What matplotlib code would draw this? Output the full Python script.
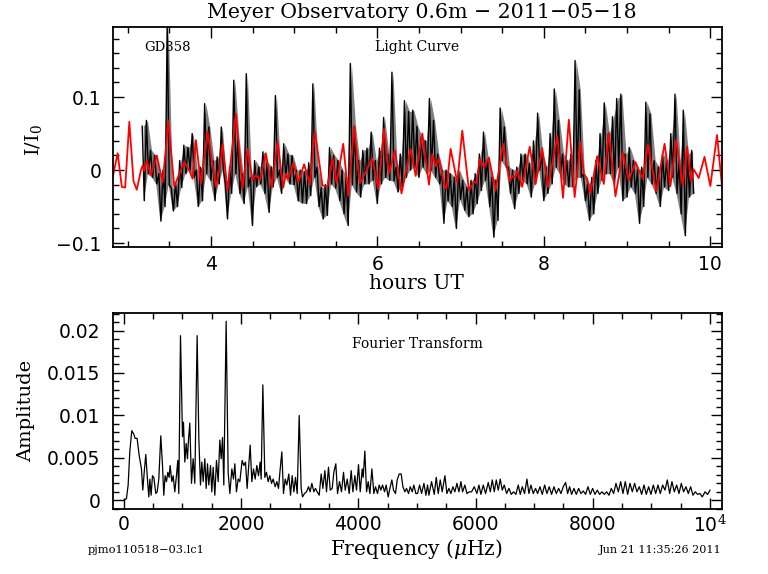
import numpy as np
import matplotlib.pyplot as plt
from matplotlib.ticker import MultipleLocator

plt.rcParams['mathtext.fontset'] = 'dejavuserif'

# ---- light curve (black): high/low of the noisy data in 0.05 h windows, 3.175 h .. 9.825 h
lc_start, lc_end = 3.175, 9.80
lc_hi = [0.060, 0.068, 0.027, 0.020, -0.005, 0.000, 0.200, -0.025, -0.018, 0.013,
         0.034, 0.031, 0.050, 0.000, 0.004, 0.091, 0.059, 0.013, 0.018, 0.059,
         -0.019, 0.004, 0.123, 0.045, -0.005, 0.132, -0.010, 0.013, 0.004, 0.025,
         0.010, 0.004, 0.102, 0.000, 0.036, 0.022, 0.020, 0.000, 0.000, -0.002,
         0.010, 0.118, 0.004, -0.024, -0.020, 0.031, 0.020, 0.013, 0.000, -0.010,
         0.146, 0.060, 0.013, 0.027, 0.030, 0.052, 0.013, 0.030, 0.072, 0.022,
         0.134, 0.004, 0.022, 0.095, 0.080, 0.082, 0.060, 0.045, 0.040, 0.098,
         0.068, 0.022, 0.000, 0.000, -0.005, -0.010, 0.000, -0.014, -0.024, -0.014,
         -0.005, 0.022, 0.052, 0.013, -0.010, -0.014, 0.085, 0.059, 0.004, 0.000,
         0.004, 0.022, 0.022, 0.009, 0.040, 0.078, 0.022, 0.004, 0.050, 0.111,
         0.068, 0.022, 0.013, 0.022, 0.150, 0.110, -0.005, -0.019, -0.010, 0.013,
         0.050, 0.092, 0.050, 0.073, 0.098, 0.104, 0.022, 0.031, 0.013, 0.000,
         0.004, 0.093, 0.077, 0.013, 0.004, 0.022, 0.013, 0.050, 0.104, 0.013,
         0.082, 0.022, 0.027]
lc_lo = [-0.042, -0.005, -0.010, -0.019, -0.070, -0.050, -0.020, -0.056, -0.050, -0.024,
         -0.005, 0.000, -0.010, -0.050, -0.042, -0.005, -0.014, -0.042, -0.019, 0.000,
         -0.067, -0.032, -0.005, -0.032, -0.046, -0.023, -0.076, -0.023, -0.019, -0.032,
         -0.058, -0.023, -0.010, -0.032, -0.010, -0.019, -0.020, -0.042, -0.045, -0.046,
         -0.035, -0.010, -0.050, -0.067, -0.062, -0.019, -0.025, -0.042, -0.060, -0.076,
         -0.020, -0.030, -0.037, -0.019, -0.019, -0.014, -0.046, -0.019, -0.010, -0.014,
         -0.015, -0.030, -0.023, -0.010, 0.000, 0.004, -0.010, 0.004, -0.005, 0.000,
         -0.010, -0.019, -0.073, -0.042, -0.050, -0.080, -0.040, -0.055, -0.064, -0.060,
         -0.046, -0.028, -0.014, -0.050, -0.092, -0.069, 0.013, 0.004, -0.032, -0.053,
         -0.032, -0.014, -0.019, -0.037, -0.019, 0.000, -0.042, -0.032, -0.019, 0.004,
         -0.005, -0.019, -0.023, -0.023, -0.010, -0.010, -0.042, -0.069, -0.060, -0.032,
         -0.014, -0.005, -0.005, -0.019, 0.004, -0.042, -0.037, -0.023, -0.032, -0.073,
         -0.050, -0.010, -0.019, -0.032, -0.050, -0.023, -0.028, -0.010, -0.032, -0.060,
         -0.090, -0.037, -0.032]

# ---- fitted model (red), turning points
fit_t = [2.82, 2.88, 2.93, 2.97, 3.02, 3.07, 3.11, 3.16, 3.18, 3.20, 3.23, 3.28, 3.35, 3.42,
         3.49, 3.56, 3.62, 3.68, 3.74, 3.78, 3.82, 3.88, 3.96, 4.06, 4.11, 4.14, 4.20, 4.30,
         4.38, 4.44, 4.50, 4.54, 4.59, 4.66, 4.73, 4.80, 4.87, 4.90, 4.93, 4.99, 5.05, 5.12,
         5.19, 5.25, 5.34, 5.40, 5.46, 5.51, 5.59, 5.65, 5.72, 5.79, 5.85, 5.94, 6.01, 6.08,
         6.14, 6.21, 6.29, 6.40, 6.46, 6.54, 6.62, 6.66, 6.70, 6.74, 6.80, 6.83, 6.88, 6.96,
         7.02, 7.10, 7.16, 7.19, 7.23, 7.28, 7.34, 7.42, 7.51, 7.59, 7.63, 7.66, 7.68, 7.74,
         7.83, 7.90, 7.98, 8.05, 8.08, 8.16, 8.23, 8.30, 8.37, 8.44, 8.48, 8.52, 8.56, 8.64,
         8.72, 8.78, 8.86, 8.95, 9.02, 9.10, 9.16, 9.19, 9.25, 9.35, 9.45, 9.52, 9.59, 9.67,
         9.72, 9.77, 9.80, 9.86, 9.93, 10.00, 10.08, 10.14]
fit_v = [-0.010, 0.023, -0.023, -0.024, 0.066, -0.015, -0.027, 0.000, 0.006, -0.001, 0.013,
         -0.007, 0.020, -0.017, 0.067, -0.023, -0.005, 0.011, 0.000, -0.012, 0.041, -0.019,
         0.053, -0.023, 0.004, 0.036, -0.028, 0.077, -0.025, 0.029, -0.014, -0.007, -0.014,
         0.023, -0.024, 0.039, -0.024, -0.005, -0.012, 0.010, -0.017, 0.008, -0.020, 0.053,
         -0.021, -0.023, 0.017, -0.018, 0.036, -0.035, 0.060, -0.018, -0.005, 0.016, -0.026,
         0.056, -0.005, 0.027, -0.032, 0.029, -0.008, 0.050, -0.020, 0.022, 0.005, 0.016,
         -0.019, -0.026, 0.029, -0.017, 0.054, -0.028, -0.016, -0.018, 0.015, 0.004, 0.017,
         -0.028, 0.036, -0.015, -0.008, -0.010, 0.000, -0.023, 0.032, -0.019, 0.030, -0.023,
         -0.005, 0.047, -0.038, 0.069, -0.037, 0.038, -0.005, -0.012, -0.032, 0.019, -0.019,
         0.051, -0.036, 0.024, -0.014, 0.011, -0.005, -0.012, 0.035, -0.029, 0.036, -0.022,
         0.041, -0.022, 0.032, -0.016, 0.001, -0.011, 0.018, -0.022, 0.048, -0.022]

# ---- Fourier transform
ft_freq = [0, 45, 74, 102, 136, 170, 193, 227, 262, 301, 324, 353, 375, 404, 427, 444, 466,
           489, 512, 546, 569, 597, 631, 660, 682, 705, 728, 751, 773, 790, 819, 842, 870,
           898, 921, 938, 967, 1001, 1018, 1041, 1064, 1086, 1103, 1126, 1155, 1183, 1211,
           1251, 1280, 1308, 1331, 1354, 1382, 1405, 1428, 1450, 1479, 1501, 1524, 1553,
           1581, 1610, 1638, 1661, 1684, 1706, 1746, 1780, 1809, 1843, 1871, 1894, 1922,
           1951, 1979, 2019, 2048, 2076, 2104, 2133, 2156, 2184, 2212, 2241, 2269, 2298,
           2326, 2343, 2372, 2406, 2434, 2463, 2491, 2520, 2548, 2582, 2611, 2639, 2668,
           2696, 2724, 2753, 2781, 2815, 2844, 2872, 2901, 2929, 2958, 2992, 3026, 3049,
           3083, 3117, 3151, 3179, 3208, 3242, 3270, 3299, 3333, 3367, 3396, 3430, 3458,
           3492, 3521, 3555, 3583, 3617, 3646, 3680, 3714, 3748, 3777, 3811, 3845, 3879,
           3908, 3942, 3970, 4004, 4033, 4067, 4084, 4112, 4141, 4169, 4198, 4232, 4266,
           4294, 4328, 4357, 4385, 4414, 4448, 4476, 4510, 4539, 4573, 4601, 4635, 4664,
           4698, 4732, 4761, 4795, 4823, 4857, 4886, 4920, 4948, 4982, 5011, 5046, 5080,
           5120, 5154, 5182, 5205, 5250, 5296, 5330, 5364, 5398, 5432, 5478, 5512, 5546,
           5580, 5614, 5648, 5683, 5717, 5751, 5779, 5819, 5853, 5893, 5933, 5978, 6024,
           6058, 6092, 6132, 6172, 6217, 6252, 6286, 6320, 6354, 6388, 6422, 6456, 6490,
           6530, 6570, 6610, 6650, 6689, 6729, 6763, 6798, 6837, 6877, 6911, 6945, 6985,
           7025, 7059, 7099, 7139, 7179, 7218, 7258, 7298, 7338, 7378, 7418, 7457, 7497,
           7537, 7571, 7605, 7639, 7679, 7719, 7759, 7799, 7838, 7878, 7918, 7958, 7998,
           8038, 8077, 8117, 8157, 8197, 8237, 8277, 8316, 8356, 8396, 8436, 8476, 8515,
           8555, 8595, 8635, 8675, 8714, 8754, 8794, 8834, 8874, 8913, 8953, 8993, 9033,
           9073, 9113, 9152, 9192, 9232, 9272, 9312, 9351, 9391, 9431, 9471, 9511, 9550,
           9590, 9630, 9670, 9710, 9749, 9789, 9829, 9869, 9914, 9960, 10000]
ft_amp = [0.0, 0.0002, 0.0018, 0.0057, 0.0082, 0.0078, 0.0073, 0.0073, 0.0053, 0.0037,
          0.0012, 0.0037, 0.0054, 0.0024, 0.0004, 0.0025, 0.0006, 0.0029, 0.0027, 0.0008,
          0.0010, 0.0025, 0.0076, 0.0041, 0.0006, 0.0029, 0.0022, 0.0033, 0.0027, 0.0041,
          0.0022, 0.0029, 0.0010, 0.0029, 0.0047, 0.0008, 0.0194, 0.0075, 0.0092, 0.0045,
          0.0067, 0.0049, 0.0071, 0.0091, 0.0020, 0.0049, 0.0020, 0.0194, 0.0073, 0.0018,
          0.0045, 0.0022, 0.0049, 0.0014, 0.0043, 0.0018, 0.0041, 0.0010, 0.0039, 0.0006,
          0.0047, 0.0022, 0.0071, 0.0049, 0.0074, 0.0018, 0.0211, 0.0033, 0.0008, 0.0037,
          0.0025, 0.0043, 0.0010, 0.0025, 0.0022, 0.0047, 0.0041, 0.0045, 0.0014, 0.0043,
          0.0065, 0.0022, 0.0037, 0.0025, 0.0041, 0.0029, 0.0045, 0.0025, 0.0136, 0.0027,
          0.0033, 0.0022, 0.0029, 0.0020, 0.0025, 0.0016, 0.0022, 0.0014, 0.0037, 0.0057,
          0.0008, 0.0025, 0.0018, 0.0031, 0.0006, 0.0029, 0.0010, 0.0027, 0.0008, 0.0100,
          0.0014, 0.0004, 0.0008, 0.0010, 0.0016, 0.0010, 0.0020, 0.0010, 0.0014, 0.0010,
          0.0006, 0.0031, 0.0014, 0.0035, 0.0010, 0.0039, 0.0012, 0.0014, 0.0033, 0.0043,
          0.0008, 0.0022, 0.0010, 0.0033, 0.0012, 0.0025, 0.0008, 0.0035, 0.0010, 0.0029,
          0.0012, 0.0042, 0.0010, 0.0037, 0.0027, 0.0058, 0.0010, 0.0022, 0.0008, 0.0037,
          0.0008, 0.0016, 0.0008, 0.0018, 0.0012, 0.0018, 0.0010, 0.0018, 0.0004, 0.0014,
          0.0024, 0.0012, 0.0008, 0.0024, 0.0031, 0.0031, 0.0016, 0.0010, 0.0014, 0.0008,
          0.0016, 0.0010, 0.0018, 0.0008, 0.0008, 0.0018, 0.0008, 0.0020, 0.0006, 0.0018,
          0.0006, 0.0022, 0.0007, 0.0027, 0.0008, 0.0024, 0.0010, 0.0029, 0.0008, 0.0014,
          0.0008, 0.0016, 0.0010, 0.0020, 0.0010, 0.0022, 0.0010, 0.0018, 0.0008, 0.0010,
          0.0010, 0.0016, 0.0008, 0.0018, 0.0007, 0.0018, 0.0008, 0.0021, 0.0010, 0.0024,
          0.0010, 0.0024, 0.0012, 0.0025, 0.0012, 0.0018, 0.0008, 0.0014, 0.0007, 0.0010,
          0.0007, 0.0018, 0.0007, 0.0016, 0.0008, 0.0025, 0.0008, 0.0018, 0.0008, 0.0014,
          0.0008, 0.0016, 0.0007, 0.0018, 0.0008, 0.0016, 0.0007, 0.0016, 0.0008, 0.0014,
          0.0008, 0.0016, 0.0021, 0.0008, 0.0016, 0.0007, 0.0014, 0.0007, 0.0014, 0.0008,
          0.0011, 0.0007, 0.0016, 0.0007, 0.0014, 0.0007, 0.0012, 0.0007, 0.0010, 0.0007,
          0.0010, 0.0006, 0.0014, 0.0008, 0.0020, 0.0010, 0.0022, 0.0008, 0.0022, 0.0007,
          0.0020, 0.0010, 0.0020, 0.0010, 0.0016, 0.0007, 0.0018, 0.0007, 0.0016, 0.0007,
          0.0018, 0.0008, 0.0018, 0.0008, 0.0018, 0.0012, 0.0024, 0.0008, 0.0022, 0.0010,
          0.0018, 0.0008, 0.0020, 0.0010, 0.0016, 0.0008, 0.0016, 0.0006, 0.0010, 0.0007,
          0.0008, 0.0004, 0.0010, 0.0007, 0.0012]

lc_yticks = [-0.1, 0, 0.1]
lc_ylabels = ['\u22120.1', '0', '0.1']
ft_xticks = [0, 2000, 4000, 6000, 8000, 10000]
ft_xlabels = ['0', '2000', '4000', '6000', '8000', '10$^4$']
ft_yticks = [0, 0.005, 0.01, 0.015, 0.02]
ft_ylabels = ['0', '0.005', '0.01', '0.015', '0.02']

# interleave high/low so the line zigzags like the raw photometry
lc_flux = np.column_stack([lc_hi, lc_lo]).ravel()
lc_time = np.linspace(lc_start, lc_end, len(lc_flux))
win_time = np.linspace(lc_start + 0.0125, lc_end - 0.0125, len(lc_hi))

fig = plt.figure(figsize=(7.68, 5.74), dpi=100)
ax1 = fig.add_axes([0.1467, 0.5702, 0.7934, 0.3822])
ax2 = fig.add_axes([0.1467, 0.1127, 0.7938, 0.3425])

tick_font = 'DejaVu Sans'
for ax in (ax1, ax2):
    ax.tick_params(which='both', direction='in', top=True, right=True, width=1.0)
    ax.tick_params(which='major', length=8)
    ax.tick_params(which='minor', length=4)
    for sp in ax.spines.values():
        sp.set_linewidth(1.3)

# top: light curve
ax1.fill_between(win_time, lc_lo, lc_hi, color='0.5', lw=0)
ax1.plot(lc_time, lc_flux, color='black', lw=1.0)
ax1.plot(fit_t, fit_v, color='#ff0000', lw=1.3, solid_joinstyle='round')
ax1.set_xlim(2.82, 10.14)
ax1.set_ylim(-0.105, 0.1955)
ax1.xaxis.set_major_locator(MultipleLocator(2))
ax1.xaxis.set_minor_locator(MultipleLocator(0.5))
ax1.set_yticks(lc_yticks, lc_ylabels)
ax1.yaxis.set_minor_locator(MultipleLocator(0.02))
ax1.tick_params(axis='x', pad=6, labelsize=13.5)
ax1.tick_params(axis='y', pad=8, labelsize=13.5)
ax1.text(0.052, 0.89, 'GD358', transform=ax1.transAxes, fontsize=9.5, family='DejaVu Serif')
ax1.text(0.5, 0.89, 'Light Curve', transform=ax1.transAxes, fontsize=10,
         family='DejaVu Serif', ha='center')

# bottom: Fourier transform
ax2.plot(ft_freq, ft_amp, color='black', lw=0.9)
ax2.set_xlim(-190, 10210)
ax2.set_ylim(-0.00106, 0.0221)
ax2.set_xticks(ft_xticks, ft_xlabels)
ax2.xaxis.set_minor_locator(MultipleLocator(500))
ax2.set_yticks(ft_yticks, ft_ylabels)
ax2.yaxis.set_minor_locator(MultipleLocator(0.001))
ax2.tick_params(axis='x', pad=4, labelsize=13.5)
ax2.tick_params(axis='y', pad=9, labelsize=13.5)
ax2.text(0.5, 0.82, 'Fourier Transform', transform=ax2.transAxes, fontsize=10,
         family='DejaVu Serif', ha='center')

for ax in (ax1, ax2):
    for lab in ax.get_xticklabels() + ax.get_yticklabels():
        lab.set_family(tick_font)

# titles and axis labels
fig.text(422 / 768, 1 - 13 / 574, 'Meyer Observatory 0.6m \u2212 2011\u221205\u221218',
         ha='center', va='center', fontsize=14.8, family='DejaVu Serif')
fig.text(416 / 768, 1 - 283 / 574, 'hours UT', ha='center', va='center',
         fontsize=14.5, family='DejaVu Serif')
fig.text(33 / 768, 1 - 140 / 574, 'I/I$_0$', ha='center', va='center', rotation=90,
         fontsize=14, family='DejaVu Serif')
fig.text(26 / 768, 1 - 411 / 574, 'Amplitude', ha='center', va='center', rotation=90,
         fontsize=14, family='DejaVu Serif')
fig.text(416 / 768, 1 - 549 / 574, 'Frequency ($\\mu$Hz)', ha='center', va='center',
         fontsize=14.5, family='DejaVu Serif')
fig.text(146 / 768, 1 - 550 / 574, 'pjmo110518\u221203.lc1', ha='center', va='center',
         fontsize=8.2, family='DejaVu Serif')
fig.text(722 / 768, 1 - 550 / 574, 'Jun 21 11:35:26 2011', ha='right', va='center',
         fontsize=8, family='DejaVu Serif')

fig.savefig('out.png', dpi=100)
